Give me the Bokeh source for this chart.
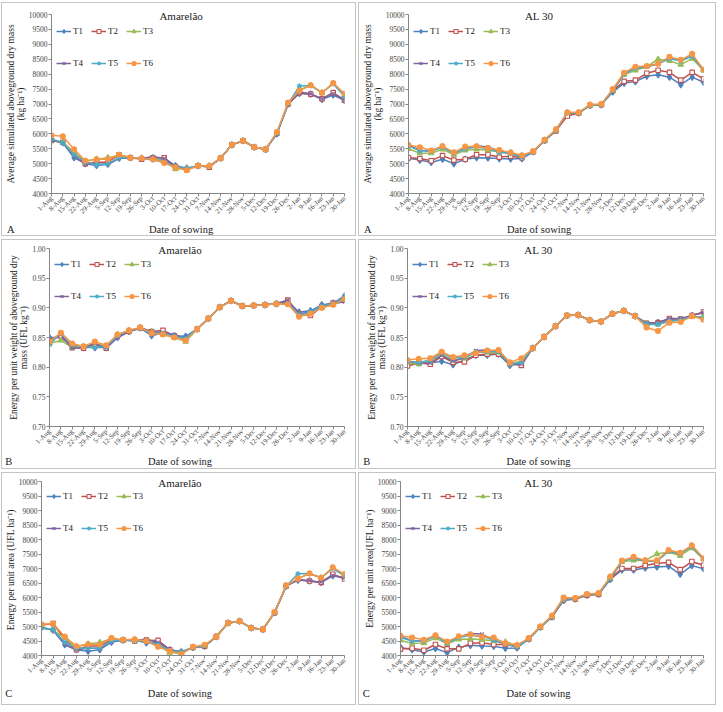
import math
from bokeh.plotting import figure
from bokeh.models import Range1d, FixedTicker, Legend, LegendItem, LinearAxis
from bokeh.layouts import column, row
from bokeh.embed import file_html
from bokeh.resources import INLINE

sowing_dates = ["1-Aug", "8-Aug", "15-Aug", "22-Aug", "29-Aug", "5-Sep", "12-Sep", "19-Sep",
                "26-Sep", "3-Oct", "10-Oct", "17-Oct", "24-Oct", "31-Oct", "7-Nov", "14-Nov",
                "21-Nov", "28-Nov", "5-Dec", "12-Dec", "19-Dec", "26-Dec", "2-Jan", "9-Jan",
                "16-Jan", "23-Jan", "30-Jan"]
treatments = ["T1", "T2", "T3", "T4", "T5", "T6"]

# Aboveground dry mass (kg/ha), Amarelão
ama_dm_t1 = [5800, 5700, 5200, 5000, 4940, 4980, 5180, 5200, 5180, 5200, 5100, 4930, 4850, 4930, 4920, 5180, 5630, 5770, 5550, 5480, 6000, 7000, 7350, 7330, 7150, 7300, 7120]
ama_dm_t2 = [5780, 5720, 5350, 5000, 5050, 5050, 5300, 5200, 5150, 5200, 5200, 4900, 4800, 4930, 4880, 5180, 5630, 5770, 5550, 5480, 6020, 7000, 7380, 7330, 7180, 7380, 7130]
ama_dm_t3 = [5780, 5720, 5380, 5080, 5150, 5200, 5280, 5200, 5180, 5180, 5080, 4820, 4830, 4930, 4920, 5180, 5630, 5770, 5550, 5480, 6020, 7020, 7480, 7620, 7380, 7680, 7300]
ama_dm_t4 = [5780, 5700, 5250, 4980, 4980, 4980, 5180, 5200, 5180, 5230, 5180, 4930, 4820, 4930, 4920, 5180, 5630, 5770, 5550, 5480, 6000, 7000, 7400, 7340, 7180, 7350, 7130]
ama_dm_t5 = [5830, 5700, 5300, 5050, 4960, 5000, 5200, 5200, 5180, 5120, 5050, 4900, 4840, 4930, 4920, 5180, 5630, 5770, 5550, 5480, 6020, 7020, 7600, 7620, 7380, 7680, 7250]
ama_dm_t6 = [5950, 5920, 5480, 5100, 5150, 5150, 5300, 5200, 5180, 5150, 5020, 4880, 4780, 4930, 4920, 5180, 5630, 5770, 5550, 5480, 6060, 7050, 7450, 7630, 7380, 7700, 7350]

# Aboveground dry mass (kg/ha), AL 30
al_dm_t1 = [5180, 5120, 5040, 5150, 5000, 5150, 5200, 5190, 5170, 5160, 5170, 5400, 5780, 6120, 6700, 6700, 6950, 6980, 7400, 7700, 7750, 7930, 7980, 7900, 7650, 7900, 7730]
al_dm_t2 = [5200, 5170, 5100, 5270, 5120, 5150, 5300, 5300, 5220, 5250, 5200, 5400, 5780, 6100, 6600, 6700, 6950, 6980, 7450, 7760, 7800, 8030, 8130, 8060, 7800, 8060, 7840]
al_dm_t3 = [5500, 5350, 5350, 5480, 5300, 5450, 5480, 5450, 5400, 5380, 5250, 5400, 5780, 6120, 6700, 6700, 6950, 6980, 7450, 7980, 8130, 8250, 8500, 8450, 8320, 8520, 8130]
al_dm_t4 = [5620, 5450, 5420, 5560, 5350, 5520, 5600, 5560, 5430, 5350, 5220, 5400, 5780, 6120, 6700, 6700, 6950, 6980, 7450, 8030, 8200, 8250, 8340, 8550, 8450, 8620, 8150]
al_dm_t5 = [5600, 5430, 5420, 5550, 5350, 5500, 5560, 5500, 5380, 5330, 5220, 5400, 5780, 6120, 6700, 6700, 6950, 6980, 7450, 8000, 8200, 8270, 8350, 8520, 8450, 8600, 8130]
al_dm_t6 = [5630, 5550, 5440, 5590, 5380, 5570, 5580, 5520, 5460, 5370, 5280, 5420, 5800, 6150, 6720, 6720, 6980, 7000, 7500, 8050, 8250, 8270, 8350, 8580, 8480, 8680, 8150]

# Energy per unit weight (UFL/kg), Amarelão
ama_ufl_t1 = [0.850, 0.850, 0.835, 0.833, 0.833, 0.833, 0.850, 0.860, 0.866, 0.853, 0.858, 0.853, 0.852, 0.864, 0.882, 0.901, 0.912, 0.903, 0.904, 0.905, 0.907, 0.910, 0.893, 0.895, 0.905, 0.908, 0.920]
ama_ufl_t2 = [0.845, 0.853, 0.833, 0.832, 0.838, 0.832, 0.853, 0.860, 0.866, 0.860, 0.862, 0.853, 0.847, 0.864, 0.882, 0.901, 0.912, 0.903, 0.904, 0.905, 0.907, 0.913, 0.890, 0.887, 0.902, 0.908, 0.915]
ama_ufl_t3 = [0.840, 0.845, 0.833, 0.835, 0.840, 0.835, 0.855, 0.862, 0.866, 0.860, 0.855, 0.850, 0.843, 0.864, 0.882, 0.901, 0.912, 0.903, 0.904, 0.905, 0.907, 0.907, 0.888, 0.892, 0.900, 0.905, 0.912]
ama_ufl_t4 = [0.845, 0.855, 0.832, 0.833, 0.840, 0.832, 0.850, 0.860, 0.866, 0.860, 0.858, 0.855, 0.847, 0.864, 0.882, 0.901, 0.912, 0.903, 0.904, 0.905, 0.907, 0.913, 0.890, 0.893, 0.903, 0.908, 0.910]
ama_ufl_t5 = [0.838, 0.858, 0.838, 0.835, 0.833, 0.835, 0.853, 0.862, 0.866, 0.857, 0.857, 0.852, 0.848, 0.864, 0.882, 0.901, 0.912, 0.903, 0.904, 0.905, 0.907, 0.907, 0.888, 0.893, 0.903, 0.907, 0.918]
ama_ufl_t6 = [0.843, 0.858, 0.840, 0.835, 0.843, 0.837, 0.855, 0.862, 0.867, 0.857, 0.855, 0.850, 0.845, 0.864, 0.882, 0.901, 0.912, 0.903, 0.904, 0.905, 0.907, 0.906, 0.885, 0.890, 0.900, 0.905, 0.915]

# Energy per unit weight (UFL/kg), AL 30
al_ufl_t1 = [0.810, 0.807, 0.807, 0.810, 0.804, 0.812, 0.820, 0.820, 0.822, 0.803, 0.806, 0.832, 0.851, 0.869, 0.887, 0.888, 0.879, 0.877, 0.890, 0.895, 0.886, 0.873, 0.875, 0.880, 0.880, 0.887, 0.892]
al_ufl_t2 = [0.802, 0.807, 0.805, 0.818, 0.808, 0.809, 0.820, 0.822, 0.822, 0.806, 0.803, 0.832, 0.851, 0.869, 0.887, 0.888, 0.879, 0.877, 0.890, 0.895, 0.886, 0.874, 0.875, 0.882, 0.881, 0.887, 0.893]
al_ufl_t3 = [0.808, 0.805, 0.810, 0.822, 0.812, 0.815, 0.825, 0.825, 0.825, 0.806, 0.810, 0.832, 0.851, 0.869, 0.887, 0.888, 0.879, 0.877, 0.890, 0.895, 0.886, 0.873, 0.872, 0.877, 0.880, 0.885, 0.885]
al_ufl_t4 = [0.810, 0.807, 0.807, 0.820, 0.810, 0.816, 0.828, 0.829, 0.826, 0.805, 0.805, 0.832, 0.851, 0.869, 0.887, 0.888, 0.879, 0.877, 0.890, 0.895, 0.886, 0.874, 0.875, 0.882, 0.882, 0.887, 0.892]
al_ufl_t5 = [0.810, 0.808, 0.812, 0.825, 0.815, 0.818, 0.826, 0.826, 0.827, 0.805, 0.808, 0.832, 0.851, 0.869, 0.887, 0.888, 0.879, 0.877, 0.890, 0.895, 0.886, 0.872, 0.872, 0.878, 0.879, 0.886, 0.883]
al_ufl_t6 = [0.812, 0.814, 0.815, 0.826, 0.817, 0.820, 0.824, 0.828, 0.829, 0.808, 0.815, 0.832, 0.851, 0.869, 0.887, 0.888, 0.879, 0.877, 0.890, 0.895, 0.886, 0.867, 0.861, 0.875, 0.876, 0.886, 0.880]

# Energy per unit area (UFL/ha), Amarelão
ama_area_t1 = [4980, 4870, 4370, 4200, 4150, 4200, 4460, 4530, 4530, 4430, 4450, 4200, 4130, 4280, 4320, 4650, 5120, 5180, 4950, 4900, 5480, 6400, 6600, 6570, 6520, 6750, 6680]
ama_area_t2 = [5050, 5100, 4550, 4200, 4330, 4330, 4550, 4530, 4500, 4530, 4520, 4200, 4100, 4280, 4320, 4650, 5120, 5180, 4950, 4900, 5480, 6400, 6630, 6570, 6520, 6800, 6640]
ama_area_t3 = [4980, 4870, 4600, 4300, 4400, 4450, 4580, 4530, 4530, 4500, 4350, 4100, 4080, 4280, 4330, 4650, 5120, 5180, 4950, 4900, 5480, 6400, 6650, 6820, 6680, 7020, 6800]
ama_area_t4 = [4950, 4880, 4380, 4200, 4250, 4250, 4470, 4530, 4530, 4560, 4450, 4220, 4100, 4280, 4320, 4650, 5120, 5180, 4950, 4900, 5480, 6400, 6600, 6580, 6530, 6760, 6680]
ama_area_t5 = [4950, 4900, 4450, 4250, 4250, 4260, 4500, 4530, 4530, 4480, 4380, 4170, 4120, 4280, 4330, 4650, 5120, 5180, 4950, 4900, 5480, 6400, 6820, 6830, 6680, 7000, 6750]
ama_area_t6 = [5080, 5100, 4650, 4320, 4390, 4380, 4600, 4540, 4560, 4500, 4300, 4150, 4050, 4300, 4370, 4650, 5120, 5180, 4950, 4900, 5500, 6420, 6650, 6830, 6680, 7040, 6800]

# Energy per unit area (UFL/ha), AL 30
al_area_t1 = [4280, 4200, 4120, 4240, 4100, 4280, 4350, 4330, 4320, 4250, 4260, 4570, 4980, 5330, 5900, 5950, 6080, 6110, 6620, 6950, 6950, 7020, 7050, 7080, 6800, 7100, 6990]
al_area_t2 = [4220, 4250, 4180, 4380, 4230, 4230, 4420, 4440, 4380, 4380, 4300, 4570, 4980, 5330, 5920, 5950, 6080, 6110, 6650, 7000, 7000, 7100, 7180, 7210, 6960, 7240, 7110]
al_area_t3 = [4520, 4420, 4430, 4600, 4400, 4560, 4570, 4550, 4500, 4470, 4350, 4570, 4980, 5350, 5950, 5960, 6100, 6130, 6650, 7230, 7280, 7280, 7500, 7570, 7440, 7700, 7320]
al_area_t4 = [4650, 4520, 4500, 4680, 4440, 4640, 4760, 4740, 4520, 4400, 4300, 4570, 4980, 5350, 5950, 5960, 6100, 6130, 6650, 7250, 7380, 7260, 7250, 7600, 7500, 7780, 7340]
al_area_t5 = [4620, 4500, 4500, 4680, 4430, 4620, 4700, 4650, 4540, 4400, 4280, 4570, 4980, 5350, 5950, 5960, 6100, 6130, 6650, 7250, 7350, 7260, 7250, 7600, 7520, 7760, 7320]
al_area_t6 = [4680, 4620, 4540, 4700, 4480, 4660, 4720, 4650, 4620, 4420, 4360, 4600, 5000, 5380, 6000, 5980, 6120, 6150, 6720, 7270, 7400, 7280, 7280, 7640, 7540, 7800, 7350]

mass_ticks = [4000, 4500, 5000, 5500, 6000, 6500, 7000, 7500, 8000, 8500, 9000, 9500, 10000]
ufl_ticks = [0.70, 0.75, 0.80, 0.85, 0.90, 0.95, 1.00]

colors = ["#4F81BD", "#C0504D", "#9BBB59", "#8064A2", "#4BACC6", "#F79646"]
markers = ["diamond", "square", "triangle", "x", "asterisk", "circle"]
marker_sizes = [6.5, 4.5, 5.5, 5, 5.5, 5]
FONT = "Liberation Serif"
AXIS_GRAY = "#868686"
TEXT = "#1a1a1a"
NBSP = "\u00a0"


def text_axis(p, side, positions, labels, standoff, size, bounds):
    # a bare axis (no line, no ticks) whose only content is text placed at given x positions
    ax = LinearAxis(ticker=FixedTicker(ticks=positions),
                    major_label_overrides=dict(zip(positions, labels)),
                    bounds=bounds,
                    major_label_orientation="horizontal",
                    major_label_standoff=standoff, major_tick_out=0, major_tick_in=0,
                    minor_tick_out=0, minor_tick_in=0,
                    axis_line_color=None, major_tick_line_color=None,
                    minor_tick_line_color=None,
                    major_label_text_font=FONT, major_label_text_font_size=size,
                    major_label_text_font_style="normal",
                    major_label_text_color=TEXT)
    p.add_layout(ax, side)
    return ax


def make_panel(title, ylabel, series, ticks, tick_fmt, letter, width, height,
               left, right, top, bottom, bottom_standoff):
    ymin, ymax = ticks[0], ticks[-1]
    nx = len(sowing_dates) - 1
    p = figure(width=width, height=height, output_backend="svg", toolbar_location=None,
               x_range=Range1d(0, nx), y_range=Range1d(ymin, ymax),
               min_border_left=left, min_border_right=right,
               min_border_top=top, min_border_bottom=bottom,
               outline_line_color=None, background_fill_color="white",
               border_fill_color="white",
               styles={"border": "1px solid #c4c4c4"})
    p.xgrid.visible = False
    p.ygrid.visible = False

    xs = list(range(len(sowing_dates)))
    items = []
    for i, (name, ys) in enumerate(zip(treatments, series)):
        ln = p.line(xs, ys, line_color=colors[i], line_width=1.5)
        fill = "white" if markers[i] == "square" else colors[i]
        sc = p.scatter(xs, ys, marker=markers[i], size=marker_sizes[i],
                       line_color=colors[i], fill_color=fill, line_width=1.1)
        items.append(LegendItem(label=name, renderers=[ln, sc]))

    fh = height - top - bottom
    fw = width - left - right
    for k, chunk in enumerate((items[:3], items[3:])):
        lg = Legend(items=chunk, orientation="horizontal",
                    location=(5, fh - 22 - 32 * k),
                    glyph_width=15, glyph_height=10, label_height=10, label_width=10,
                    label_standoff=2, spacing=8, padding=0, margin=0,
                    border_line_color=None, background_fill_alpha=0,
                    label_text_font=FONT, label_text_font_size="9px",
                    label_text_color=TEXT)
        p.add_layout(lg)

    # x position (in category units) of the panel centre
    centre_x = round((width / 2 - left) * nx / fw, 2)

    xa = p.xaxis[0]
    xa.ticker = FixedTicker(ticks=xs)
    xa.major_label_overrides = {i: d for i, d in enumerate(sowing_dates)}
    xa.major_label_orientation = math.pi / 4
    xa.major_label_text_font = FONT
    xa.major_label_text_font_size = "7px"
    xa.major_label_standoff = 1
    xa.major_tick_out = 3
    xa.major_tick_in = 0
    xa.minor_tick_line_color = None
    xa.axis_line_color = AXIS_GRAY
    xa.major_tick_line_color = AXIS_GRAY

    # chart title straddling the top edge of the plot area
    text_axis(p, "above", [centre_x], [title], -7, "11px", (centre_x - 0.3, centre_x + 0.3))
    # panel letter (padded so that it sits out in the corner) and the x-axis title
    pad = int(round((2 * (left - 3) - 7.6) / 2.625))
    text_axis(p, "below", [0, centre_x], [letter + NBSP * pad, "Date of sowing"],
              bottom_standoff, "10.5px", (0, centre_x + 0.3))

    ya = p.yaxis[0]
    ya.ticker = FixedTicker(ticks=ticks)
    ya.major_label_overrides = {t: tick_fmt.format(t) for t in ticks}
    ya.major_label_text_font = FONT
    ya.major_label_text_font_size = "7.5px"
    ya.major_label_standoff = 1
    ya.major_tick_out = 3
    ya.major_tick_in = 0
    ya.minor_tick_line_color = None
    ya.axis_line_color = AXIS_GRAY
    ya.major_tick_line_color = AXIS_GRAY
    ya.axis_label = ylabel
    ya.axis_label_text_font = FONT
    ya.axis_label_text_font_size = "9.5px"
    ya.axis_label_text_font_style = "normal"
    ya.axis_label_text_color = TEXT
    ya.axis_label_text_line_height = 1.0
    ya.axis_label_standoff = 0
    return p


p1 = make_panel("Amarelão", "Average simulated aboveground dry mass\n(kg ha\u207b\u00b9)",
                [ama_dm_t1, ama_dm_t2, ama_dm_t3, ama_dm_t4, ama_dm_t5, ama_dm_t6],
                mass_ticks, "{:d}", "A", 355, 234, 47, 13, 11, 44, 2)
p2 = make_panel("AL 30", "Average simulated aboveground dry mass\n(kg ha\u207b\u00b9)",
                [al_dm_t1, al_dm_t2, al_dm_t3, al_dm_t4, al_dm_t5, al_dm_t6],
                mass_ticks, "{:d}", "A", 358, 234, 48, 14, 11, 44, 2)
p3 = make_panel("Amarelão", "Energy per unit weight of aboveground dry\nmass (UFL kg\u207b\u00b9)",
                [ama_ufl_t1, ama_ufl_t2, ama_ufl_t3, ama_ufl_t4, ama_ufl_t5, ama_ufl_t6],
                ufl_ticks, "{:.2f}", "B", 355, 230, 47, 13, 7, 44, 1)
p4 = make_panel("AL 30", "Energy per unit weight of aboveground dry\nmass (UFL kg\u207b\u00b9)",
                [al_ufl_t1, al_ufl_t2, al_ufl_t3, al_ufl_t4, al_ufl_t5, al_ufl_t6],
                ufl_ticks, "{:.2f}", "B", 358, 230, 48, 14, 7, 44, 1)
p5 = make_panel("Amarelão", "Energy per unit area  (UFL ha\u207b\u00b9)",
                [ama_area_t1, ama_area_t2, ama_area_t3, ama_area_t4, ama_area_t5, ama_area_t6],
                mass_ticks, "{:d}", "C", 355, 233, 39, 13, 6, 51, 4)
p6 = make_panel("AL 30", "Energy per unit area(UFL ha\u207b\u00b9)",
                [al_area_t1, al_area_t2, al_area_t3, al_area_t4, al_area_t5, al_area_t6],
                mass_ticks, "{:d}", "C", 358, 233, 41, 14, 6, 51, 4)

layout = column(row(p1, p2, spacing=2), row(p3, p4, spacing=2), row(p5, p6, spacing=2),
                spacing=3, margin=(2, 0, 0, 1))

open("out.html", "w").write(file_html(layout, INLINE))
